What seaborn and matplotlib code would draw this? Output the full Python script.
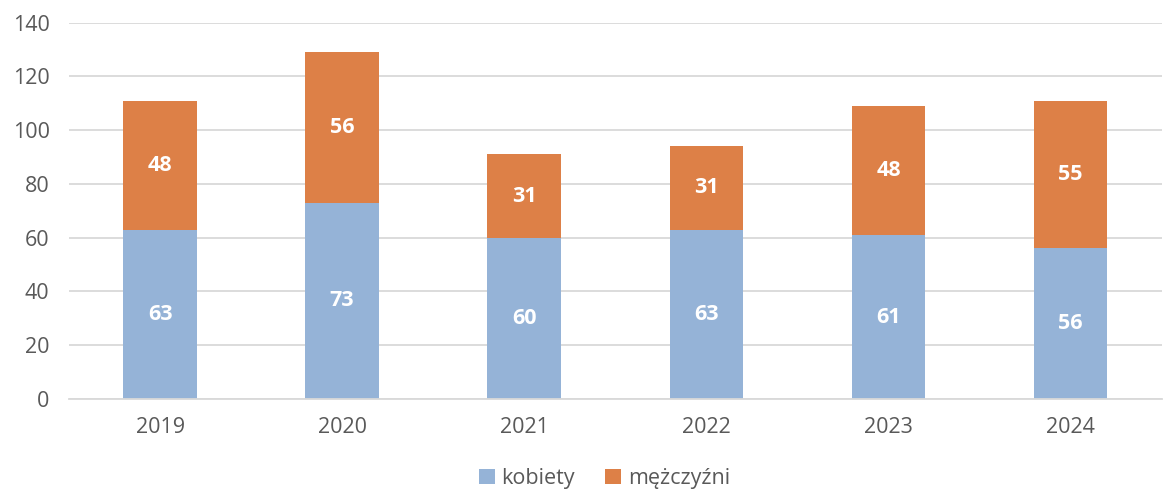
import matplotlib
matplotlib.use('Agg')
import matplotlib.pyplot as plt
import seaborn as sns
import pandas as pd

# ── dane ──────────────────────────────────────────────
lata      = ['2019', '2020', '2021', '2022', '2023', '2024']
kobiety   = [63, 73, 60, 63, 61, 56]
mezczyzni = [48, 56, 31, 31, 48, 55]

KOL_K = '#95B3D7'
KOL_M = '#DD8047'
SZARY = '#595959'

sns.set_style('white')
plt.rcParams['font.family'] = ['Open Sans', 'DejaVu Sans']

df = pd.DataFrame({'rok': lata, 'kobiety': kobiety, 'mezczyzni': mezczyzni})

fig = plt.figure(figsize=(11.64, 4.93), dpi=100)
ax = fig.add_axes([0.0593, 0.1907, 0.9387, 0.7633])

sns.barplot(data=df, x='rok', y='kobiety', color=KOL_K, width=0.405,
            saturation=1, ax=ax, label='kobiety', linewidth=0)
sns.barplot(data=df, x='rok', y='mezczyzni', color=KOL_M, width=0.405,
            saturation=1, ax=ax, label='mężczyźni', bottom=df['kobiety'],
            linewidth=0)

for i, (k, m) in enumerate(zip(kobiety, mezczyzni)):
    ax.text(i, k / 2, str(k), ha='center', va='center', color='white',
            fontsize=15.5, fontweight='bold')
    ax.text(i, k + m / 2, str(m), ha='center', va='center', color='white',
            fontsize=15.5, fontweight='bold')

ax.set_ylim(0, 140)
ax.set_xlim(-0.5, 5.5)
ax.set_yticks(range(0, 141, 20))
ax.yaxis.grid(True, color='#D9D9D9', linewidth=1.3)
ax.set_axisbelow(True)
for s in ['top', 'right', 'left']:
    ax.spines[s].set_visible(False)
ax.spines['bottom'].set_color('#D9D9D9')
ax.spines['bottom'].set_linewidth(1.3)
ax.set_xlabel('')
ax.set_ylabel('')
ax.tick_params(axis='both', length=0, labelsize=15.5, colors=SZARY)
ax.tick_params(axis='x', pad=13)
ax.tick_params(axis='y', pad=14)

ax.legend(loc='lower center', bbox_to_anchor=(0.49, -0.245), ncol=2,
          frameon=False, fontsize=15.5, handlelength=0.75, handleheight=0.75,
          handletextpad=0.3, columnspacing=1.4, labelcolor=SZARY,
          borderaxespad=0, borderpad=0.1)

fig.savefig('out.png', dpi=100)
